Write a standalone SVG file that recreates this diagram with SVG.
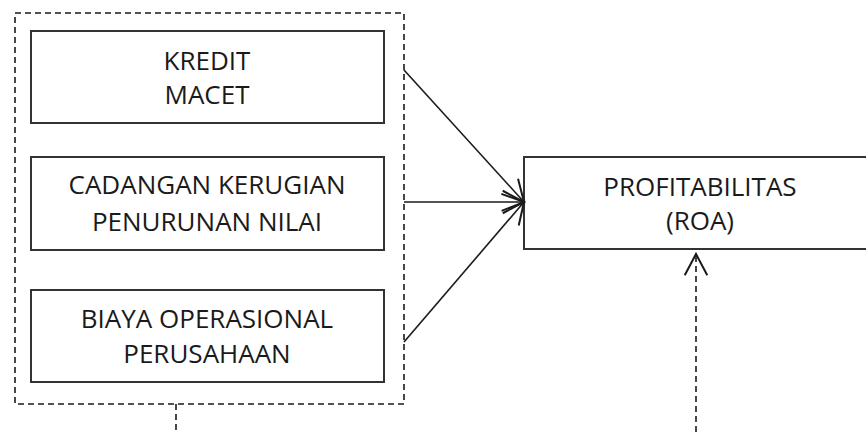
<svg xmlns="http://www.w3.org/2000/svg" width="866" height="432" viewBox="0 0 866 432">
  <style>
    .box { fill: #ffffff; stroke: #333333; stroke-width: 2; }
    .dash { fill: none; stroke: #1a1a1a; stroke-width: 1.6; stroke-dasharray: 6 4; }
    .conn { fill: none; stroke: #1a1a1a; stroke-width: 1.6; }
    .lbl { font-family: "Open Sans", "Liberation Sans", sans-serif; font-size: 26px; fill: #1a1a1a; text-anchor: middle; }
  </style>
  <defs>
    <marker id="open" markerUnits="userSpaceOnUse" markerWidth="30" markerHeight="30" viewBox="-20 -12 22 24" refX="0" refY="0" orient="auto">
      <path d="M-17,-9 L0,0 L-17,9" fill="none" stroke="#1a1a1a" stroke-width="1.6"/>
    </marker>
  </defs>
  <rect width="866" height="432" fill="#ffffff"/>

  <g id="group-independent">
    <rect class="dash" x="15" y="13" width="389" height="391"/>
  </g>

  <g id="node-kredit-macet">
    <rect class="box" x="31" y="31" width="353" height="92"/>
    <text class="lbl" x="207" y="70">KREDIT</text>
    <text class="lbl" x="207" y="104">MACET</text>
  </g>

  <g id="node-cadangan">
    <rect class="box" x="31" y="157" width="353" height="93"/>
    <text class="lbl" x="207" y="194">CADANGAN KERUGIAN</text>
    <text class="lbl" x="207" y="231">PENURUNAN NILAI</text>
  </g>

  <g id="node-biaya">
    <rect class="box" x="31" y="290" width="353" height="92"/>
    <text class="lbl" x="207" y="328">BIAYA OPERASIONAL</text>
    <text class="lbl" x="207" y="363">PERUSAHAAN</text>
  </g>

  <g id="node-roa">
    <rect class="box" x="524" y="157" width="360" height="92"/>
    <text class="lbl" x="700" y="196">PROFITABILITAS</text>
    <text class="lbl" x="700" y="230">(ROA)</text>
  </g>

  <g id="connectors">
    <line class="conn" x1="404" y1="70" x2="524" y2="202" marker-end="url(#open)"/>
    <line class="conn" x1="404" y1="202" x2="524" y2="202" marker-end="url(#open)"/>
    <line class="conn" x1="404" y1="342" x2="524" y2="202" marker-end="url(#open)"/>
    <line class="dash" x1="176" y1="404" x2="176" y2="432"/>
    <line class="dash" x1="696" y1="432" x2="696" y2="254" marker-end="url(#open)"/>
  </g>
</svg>
